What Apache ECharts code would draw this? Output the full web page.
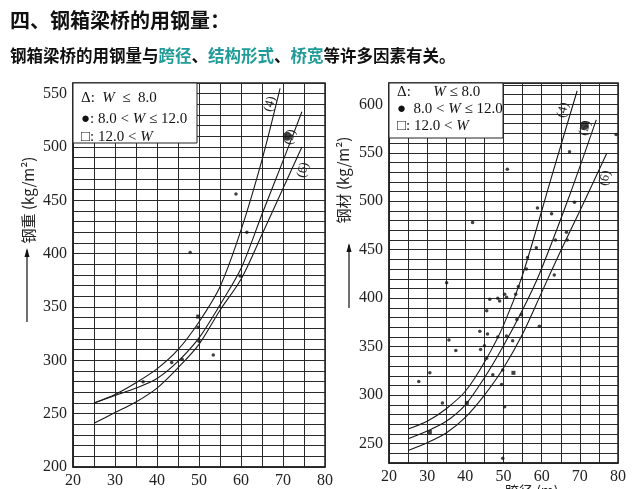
<!DOCTYPE html>
<html><head><meta charset="utf-8">
<script src="https://cdn.jsdelivr.net/npm/echarts@6/dist/echarts.min.js"></script>
<style>html,body{margin:0;padding:0;background:#fff}#c{width:640px;height:489px}</style>
</head><body><div id="c"></div>
<script>
// ---- text ----
const headingText = '四、钢箱梁桥的用钢量：';
const subParts = [['钢箱梁桥的用钢量与','k'],['跨径','t'],['、','k'],['结构形式','t'],['、','k'],['桥宽','t'],['等许多因素有关。','k']];
const leftYName = '钢重 (kg/m²)';
const rightYName = '钢材 (kg/m²)';
const rightXName = '跨径 (m)';
const legendLeft = ['Δ:  {w|W}  ≤  8.0', '●: 8.0 < {w|W} ≤ 12.0', '□: 12.0 < {w|W}'];
const legendRight = ['Δ:      {w|W} ≤ 8.0', '●  8.0 < {w|W} ≤ 12.0', '□: 12.0 < {w|W}'];
const curveLabels = ['(4)', '(5)', '(6)'];

// ---- axes ----
const xMin = 20, xMax = 80, xStep = 5;
const leftYMin = 200, leftYMax = 560, yStep = 10;
const rightYMin = 230, rightYMax = 622;

// ---- left chart data ----
const leftCurve4 = [[25,260],[30,268],[35,279],[40,292],[45,310],[50,336],[55,369],[60,422],[65,488],[69.3,555]];
const leftCurve5 = [[25,260],[30,267],[35,274],[40,283],[45,299],[50,321],[55,352],[60,386],[65,437],[70,487],[74.5,533]];
const leftCurve6 = [[25,241],[30,251],[35,261],[40,274],[45,293],[50,315],[55,347],[60,376],[65,418],[70,461],[74.5,500]];
const leftDots = [[58.8,456],[61.4,420],[47.9,401],[53.4,305],[49.8,331],[43.5,298],[36.7,280],[50,318],[59.8,379],[46,301]];
const leftSquares = [[49.8,341]];
const leftBig = [[71,510]];

// ---- right chart data ----
const rightCurve4 = [[25,265],[30,273],[35,286],[40,304],[45,334],[50,372],[55,424],[62.8,528],[69.3,614]];
const rightCurve5 = [[25,255],[30,263],[35,273],[40,290],[45,318],[50,351],[55,388],[59.4,425],[67.3,506],[74.3,584]];
const rightCurve6 = [[25,243],[30,251],[35,261],[40,277],[45,300],[50,328],[55,363],[60,406],[65,449],[70,490],[77,549]];
const rightDots = [[27.8,314],[30.7,323],[34,292],[35.7,357],[35.1,416],[37.5,346],[43.8,366],[44,347],[45,351],[45.6,387],[45.8,363],[45.6,338],[47.2,321],[48.5,360],[46.4,399],[48.5,400],[49,397],[49.5,311],[49.8,326],[50.3,288],[50.3,404],[50.8,401],[50.8,361],[52.4,356],[53.2,404],[53.5,378],[53.9,412],[54.7,383],[59.4,371],[63.3,424],[49.8,235],[41.9,478],[51,533],[56.3,442],[58.6,452],[58.9,493],[62.6,487],[63.6,460],[66.5,468],[66.7,460],[67.3,551],[68.6,499],[79.5,569],[56,430]];
const rightSquares = [[30.7,262],[40.4,292],[52.6,323]];
const rightBig = [[71.2,578]];

const chart = echarts.init(document.getElementById('c'), null, {renderer:'canvas'});
const serif = '"Liberation Serif","DejaVu Serif",serif';
const cjk = '"Noto Sans CJK SC","Noto Sans",sans-serif';
const gridLine = {show:true, lineStyle:{color:'#2a2a2a', width:1}};
function xAx(gi){return {type:'value', gridIndex:gi, min:xMin, max:xMax, interval:xStep,
  axisLine:{show:true, onZero:false, lineStyle:{color:'#222', width:1.5}}, axisTick:{show:false},
  axisLabel:{color:'#222', fontFamily:serif, fontSize:16, margin:6, formatter:v=>v%10===0?String(v):''},
  splitLine:gridLine};}
function yAx(gi,mn,mx){return {type:'value', gridIndex:gi, min:mn, max:mx, interval:yStep,
  axisLine:{show:true, onZero:false, lineStyle:{color:'#222', width:1.5}}, axisTick:{show:false},
  axisLabel:{color:'#222', fontFamily:serif, fontSize:16, margin:6, showMaxLabel:false, formatter:v=>v%50===0?String(v):''},
  splitLine:gridLine};}
function curve(d,gi){return {type:'line', xAxisIndex:gi, yAxisIndex:gi, data:d, smooth:0.3, showSymbol:false, silent:true,
  lineStyle:{color:'#1a1a1a', width:1.1}};}
function pts(d,gi,sym,size){return {type:'scatter', xAxisIndex:gi, yAxisIndex:gi, data:d, symbol:sym, symbolSize:size, silent:true,
  itemStyle:{color:'#111'}};}

const rich = {k:{fill:'#111', font:'bold 16.5px '+cjk}, t:{fill:'#1f9c98', font:'bold 16.5px '+cjk}};
const subText = subParts.map(p=>'{'+p[1]+'|'+p[0]+'}').join('');

function legendBox(x,y,w,h,lines,ys,fs){
  const els = [{type:'rect', shape:{x:x,y:y,width:w,height:h}, style:{fill:'#fff', stroke:'#222', lineWidth:1}, z:10}];
  lines.forEach((t,i)=>els.push({type:'text', x:x+8, y:ys[i], z:11, style:{text:t, fill:'#111', font:fs+'px '+serif, textVerticalAlign:'middle',
    rich:{w:{fill:'#111', font:'italic '+fs+'px '+serif}}}}));
  return els;
}
function arrow(x,y1,y2){
  return [{type:'line', shape:{x1:x,y1:y1,x2:x,y2:y2}, style:{stroke:'#111', lineWidth:1.2}},
          {type:'polygon', shape:{points:[[x,y1-2],[x-2.5,y1+7],[x+2.5,y1+7]]}, style:{fill:'#111'}}];
}
function vtext(t,x,y,fs){return {type:'text', x:x, y:y, rotation:Math.PI/2, style:{text:t, fill:'#222', font:fs+'px '+cjk, textAlign:'center', textVerticalAlign:'middle'}};}
function ctext(t,x,y,rot){return {type:'text', x:x, y:y, rotation:rot, z:12, style:{text:t, fill:'#222', font:'13px '+serif, textAlign:'center', textVerticalAlign:'middle'}};}

chart.setOption({
  backgroundColor:'#fff',
  animation:false,
  grid:[
    {left:73, top:83, width:252, height:384, show:true, borderColor:'#222', borderWidth:1.5, backgroundColor:'transparent'},
    {left:389, top:83, width:229, height:380, show:true, borderColor:'#222', borderWidth:1.5, backgroundColor:'transparent'}
  ],
  xAxis:[xAx(0), xAx(1)],
  yAxis:[yAx(0,leftYMin,leftYMax), yAx(1,rightYMin,rightYMax)],
  series:[
    curve(leftCurve4,0), curve(leftCurve5,0), curve(leftCurve6,0),
    pts(leftDots,0,'circle',3.5), pts(leftSquares,0,'rect',4), pts(leftBig,0,'circle',9),
    curve(rightCurve4,1), curve(rightCurve5,1), curve(rightCurve6,1),
    pts(rightDots,1,'circle',3.5), pts(rightSquares,1,'rect',4), pts(rightBig,1,'circle',9)
  ],
  graphic:[
    {type:'text', left:10, top:10, style:{text:headingText, fill:'#111', font:'bold 20px '+cjk}},
    {type:'text', left:10, top:47, style:{text:subText, rich:rich}},
    ...legendBox(73,83,124,60,legendLeft,[98,119,137],15),
    ...legendBox(389,83,114,55,legendRight,[92,109,126],15),
    vtext(leftYName,28,200,15), ...arrow(27,250,322),
    vtext(rightYName,343,180,15), ...arrow(349,245,308),
    ctext(curveLabels[0],270,104,Math.PI/2.4), ctext(curveLabels[1],290,137,Math.PI/2.4), ctext(curveLabels[2],303,170,Math.PI/2.4),
    ctext(curveLabels[0],563,110,Math.PI/2.4), ctext(curveLabels[1],585,128,Math.PI/2.4), ctext(curveLabels[2],605,178,Math.PI/2.4),
    {type:'text', left:505, top:484, style:{text:rightXName, fill:'#222', font:'14px '+cjk}}
  ]
});
</script></body></html>
